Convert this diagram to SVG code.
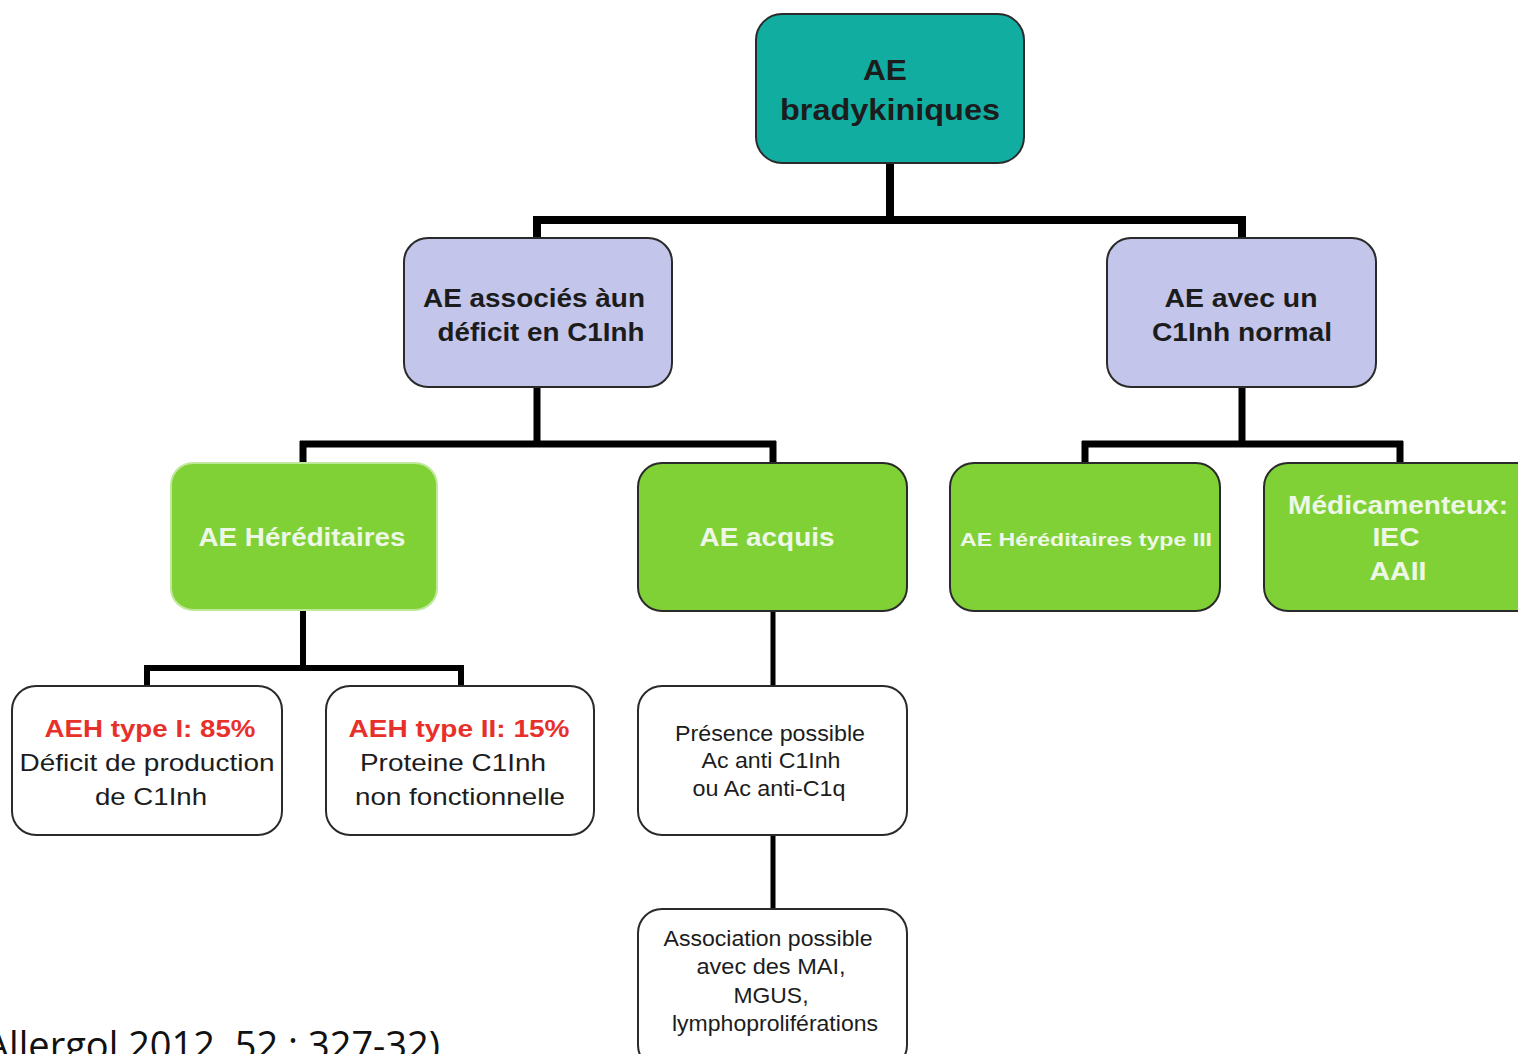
<svg xmlns="http://www.w3.org/2000/svg" width="1518" height="1054" viewBox="0 0 1518 1054">
<style>
.box{stroke:#2a2a2a;stroke-width:2}
.teal{fill:#11ada1}
.lav{fill:#c3c6ea}
.green{fill:#7fd136}
.white{fill:#ffffff}
.t{font-family:"Liberation Sans",Arial,sans-serif;text-anchor:middle}
.b{font-weight:bold}
.dark{fill:#1c1c1c}
.wt{fill:#eef7e6}
.red{fill:#e8302b}
.con{stroke:#000;fill:none;stroke-linejoin:miter;stroke-linecap:butt}
</style>
<rect width="1518" height="1054" fill="#ffffff"/>
<g id="connectors">
<path class="con" stroke-width="8" d="M890,163 V220 M533,220 H1246 M537,216 V238 M1242,216 V238"/>
<path class="con" stroke-width="7" d="M537,387 V444 M300,444 H776 M303,441 V463 M773,441 V463"/>
<path class="con" stroke-width="7" d="M1242,387 V444 M1082,444 H1403 M1085,441 V463 M1400,441 V463"/>
<path class="con" stroke-width="6" d="M303,610 V668 M144,668 H464 M147,665 V686 M461,665 V686"/>
<path class="con" stroke-width="5" d="M773,611 V686 M773,835 V909"/>
</g>
<g id="n-root">
<rect class="box teal" x="756" y="14" width="268" height="149" rx="26"/>
<text class="t b dark" font-size="29" x="885" y="80" textLength="44" lengthAdjust="spacingAndGlyphs">AE</text>
<text class="t b dark" font-size="29" x="890" y="120" textLength="220" lengthAdjust="spacingAndGlyphs">bradykiniques</text>
</g>
<g id="n-deficit">
<rect class="box lav" x="404" y="238" width="268" height="149" rx="24"/>
<text class="t b dark" font-size="25" x="534" y="307" textLength="222" lengthAdjust="spacingAndGlyphs">AE associés àun</text>
<text class="t b dark" font-size="25" x="541" y="341" textLength="207" lengthAdjust="spacingAndGlyphs">déficit en C1Inh</text>
</g>
<g id="n-normal">
<rect class="box lav" x="1107" y="238" width="269" height="149" rx="24"/>
<text class="t b dark" font-size="25" x="1241" y="307" textLength="153" lengthAdjust="spacingAndGlyphs">AE avec un</text>
<text class="t b dark" font-size="25" x="1242" y="341" textLength="180" lengthAdjust="spacingAndGlyphs">C1Inh normal</text>
</g>
<g id="n-hered">
<rect class="green" x="171" y="463" width="266" height="147" rx="22" stroke="#bfe89a" stroke-width="2"/>
<text class="t b wt" font-size="25" x="302" y="546" textLength="207" lengthAdjust="spacingAndGlyphs">AE Héréditaires</text>
</g>
<g id="n-acquis">
<rect class="box green" x="638" y="463" width="269" height="148" rx="24"/>
<text class="t b wt" font-size="25" x="767" y="546" textLength="135" lengthAdjust="spacingAndGlyphs">AE acquis</text>
</g>
<g id="n-type3">
<rect class="box green" x="950" y="463" width="270" height="148" rx="24"/>
<text class="t b wt" font-size="19" x="1086" y="546" textLength="252" lengthAdjust="spacingAndGlyphs">AE Héréditaires type III</text>
</g>
<g id="n-medic">
<rect class="box green" x="1264" y="463" width="280" height="148" rx="24"/>
<text class="t b wt" font-size="25" x="1398" y="514" textLength="220" lengthAdjust="spacingAndGlyphs">Médicamenteux:</text>
<text class="t b wt" font-size="25" x="1396" y="546" textLength="47" lengthAdjust="spacingAndGlyphs">IEC</text>
<text class="t b wt" font-size="25" x="1398" y="580" textLength="57" lengthAdjust="spacingAndGlyphs">AAII</text>
</g>
<g id="n-type1">
<rect class="box white" x="12" y="686" width="270" height="149" rx="24"/>
<text class="t b red" font-size="24" x="150" y="737" textLength="211" lengthAdjust="spacingAndGlyphs">AEH type I: 85%</text>
<text class="t dark" font-size="24" x="147" y="771" textLength="255" lengthAdjust="spacingAndGlyphs">Déficit de production</text>
<text class="t dark" font-size="24" x="151" y="805" textLength="112" lengthAdjust="spacingAndGlyphs">de C1Inh</text>
</g>
<g id="n-type2">
<rect class="box white" x="326" y="686" width="268" height="149" rx="24"/>
<text class="t b red" font-size="24" x="459" y="737" textLength="221" lengthAdjust="spacingAndGlyphs">AEH type II: 15%</text>
<text class="t dark" font-size="24" x="453" y="771" textLength="186" lengthAdjust="spacingAndGlyphs">Proteine C1Inh</text>
<text class="t dark" font-size="24" x="460" y="805" textLength="210" lengthAdjust="spacingAndGlyphs">non fonctionnelle</text>
</g>
<g id="n-presence">
<rect class="box white" x="638" y="686" width="269" height="149" rx="24"/>
<text class="t dark" font-size="22" x="770" y="741" textLength="190" lengthAdjust="spacingAndGlyphs">Présence possible</text>
<text class="t dark" font-size="22" x="771" y="768" textLength="139" lengthAdjust="spacingAndGlyphs">Ac anti C1Inh</text>
<text class="t dark" font-size="22" x="769" y="796" textLength="153" lengthAdjust="spacingAndGlyphs">ou Ac anti-C1q</text>
</g>
<g id="n-association">
<rect class="box white" x="638" y="909" width="269" height="160" rx="24"/>
<text class="t dark" font-size="22" x="768" y="946" textLength="209" lengthAdjust="spacingAndGlyphs">Association possible</text>
<text class="t dark" font-size="22" x="771" y="974" textLength="149" lengthAdjust="spacingAndGlyphs">avec des MAI,</text>
<text class="t dark" font-size="22" x="771" y="1003" textLength="75" lengthAdjust="spacingAndGlyphs">MGUS,</text>
<text class="t dark" font-size="22" x="775" y="1031" textLength="206" lengthAdjust="spacingAndGlyphs">lymphoproliférations</text>
</g>
<text x="440" y="1059" text-anchor="end" font-family="'Open Sans','Liberation Sans',sans-serif" font-size="38" fill="#111">Allergol 2012, 52 : 327-32)</text>
</svg>
